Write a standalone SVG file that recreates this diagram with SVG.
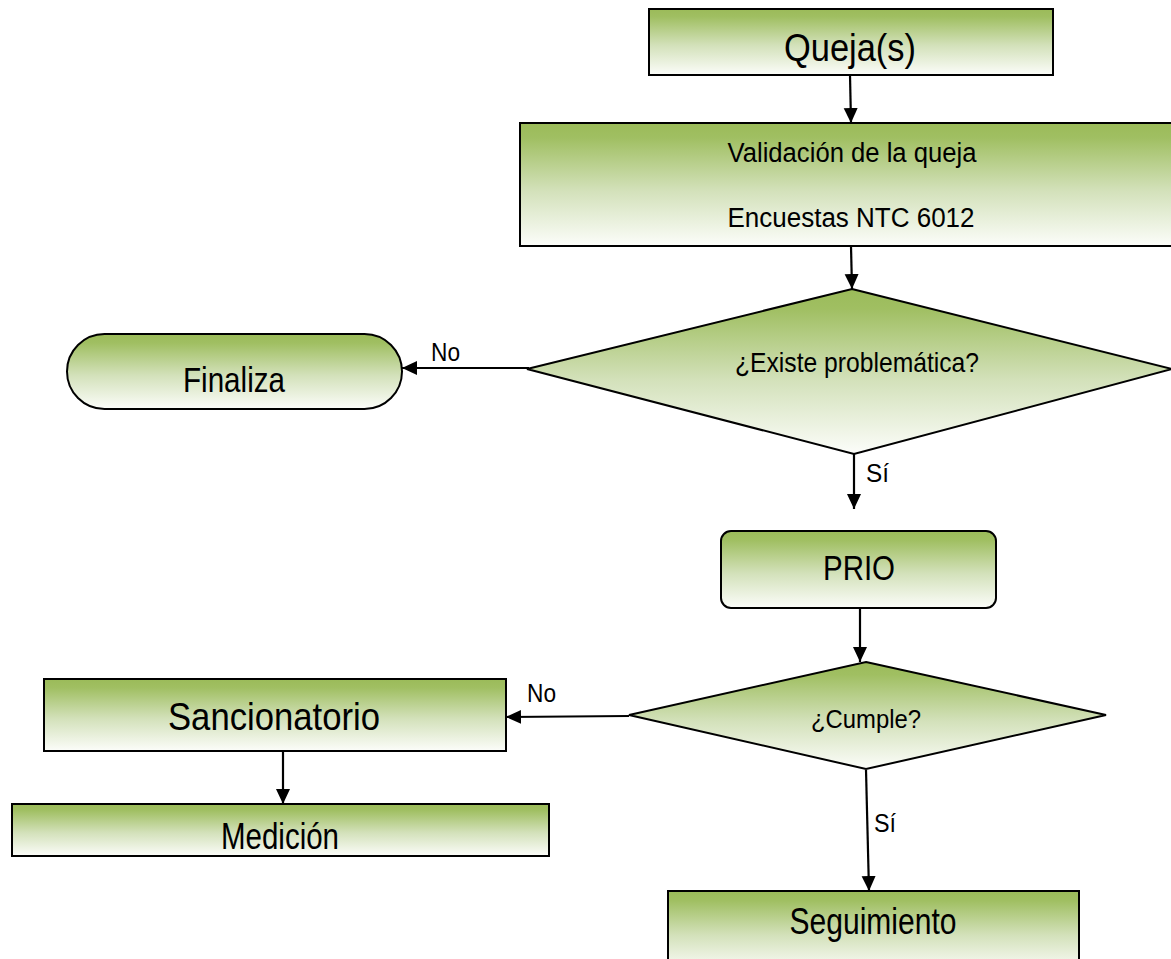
<svg xmlns="http://www.w3.org/2000/svg" width="1171" height="959" viewBox="0 0 1171 959">
<defs>
<linearGradient id="g" x1="0" y1="0" x2="0" y2="1">
<stop offset="0" stop-color="#9bbb59"/>
<stop offset="0.12" stop-color="#a0bf62"/>
<stop offset="0.55" stop-color="#d3e1ba"/>
<stop offset="1" stop-color="#fcfdfa"/>
</linearGradient>
<marker id="ah" markerUnits="userSpaceOnUse" markerWidth="16" markerHeight="16" refX="15" refY="7.5" orient="auto">
<path d="M0,0.5 L15,7.5 L0,14.5 Z" fill="#000"/>
</marker>
<style>
.n{fill:url(#g);stroke:#000;stroke-width:2}
.t{font-family:"Liberation Sans",Arial,sans-serif;fill:#000;text-anchor:middle}
.c{stroke:#000;stroke-width:2.2;fill:none;marker-end:url(#ah)}
.l{font-family:"Liberation Sans",Arial,sans-serif;fill:#000;font-size:26px}
</style>
</defs>
<rect width="1171" height="959" fill="#fff"/>
<g id="connectors">
<line class="c" x1="850" y1="75" x2="851" y2="123"/>
<line class="c" x1="851" y1="246" x2="852" y2="289"/>
<line class="c" x1="529" y1="368" x2="402" y2="368"/>
<line class="c" x1="854" y1="454" x2="854" y2="509"/>
<line class="c" x1="860" y1="608" x2="860" y2="662"/>
<line class="c" x1="629" y1="716" x2="506" y2="717"/>
<line class="c" x1="283" y1="751" x2="283" y2="804"/>
<line class="c" x1="866" y1="770" x2="869" y2="891"/>
<text class="l" x="431" y="361" textLength="29" lengthAdjust="spacingAndGlyphs">No</text>
<text class="l" x="866" y="482" textLength="23" lengthAdjust="spacingAndGlyphs">Sí</text>
<text class="l" x="527" y="702" textLength="29" lengthAdjust="spacingAndGlyphs">No</text>
<text class="l" x="874" y="832" textLength="22" lengthAdjust="spacingAndGlyphs">Sí</text>
</g>
<g id="queja">
<rect class="n" x="649" y="9" width="404" height="66"/>
<text class="t" x="850" y="61" font-size="38" textLength="132" lengthAdjust="spacingAndGlyphs">Queja(s)</text>
</g>
<g id="validacion">
<rect class="n" x="520" y="123" width="660" height="123"/>
<text class="t" x="852" y="162" font-size="27" textLength="249" lengthAdjust="spacingAndGlyphs">Validación de la queja</text>
<text class="t" x="851" y="227" font-size="27" textLength="247" lengthAdjust="spacingAndGlyphs">Encuestas NTC 6012</text>
</g>
<g id="existe">
<polygon class="n" points="852,289 1172,369 854,454 527,369"/>
<text class="t" x="857" y="372" font-size="28" textLength="244" lengthAdjust="spacingAndGlyphs">¿Existe problemática?</text>
</g>
<g id="finaliza">
<rect class="n" x="67" y="334" width="335" height="75" rx="37.5" ry="37.5"/>
<text class="t" x="234" y="392" font-size="35" textLength="102" lengthAdjust="spacingAndGlyphs">Finaliza</text>
</g>
<g id="prio">
<rect class="n" x="721" y="531" width="275" height="77" rx="10" ry="10"/>
<text class="t" x="859" y="580" font-size="35" textLength="72" lengthAdjust="spacingAndGlyphs">PRIO</text>
</g>
<g id="cumple">
<polygon class="n" points="866,662 1106,715 866,769 629,715"/>
<text class="t" x="866" y="728" font-size="26" textLength="110" lengthAdjust="spacingAndGlyphs">¿Cumple?</text>
</g>
<g id="sancionatorio">
<rect class="n" x="44" y="679" width="462" height="72"/>
<text class="t" x="274" y="730" font-size="39" textLength="212" lengthAdjust="spacingAndGlyphs">Sancionatorio</text>
</g>
<g id="medicion">
<rect class="n" x="12" y="804" width="537" height="52"/>
<text class="t" x="280" y="849" font-size="36" textLength="118" lengthAdjust="spacingAndGlyphs">Medición</text>
</g>
<g id="seguimiento">
<rect class="n" x="668" y="891" width="411" height="80"/>
<text class="t" x="873" y="934" font-size="36" textLength="167" lengthAdjust="spacingAndGlyphs">Seguimiento</text>
</g>
</svg>
